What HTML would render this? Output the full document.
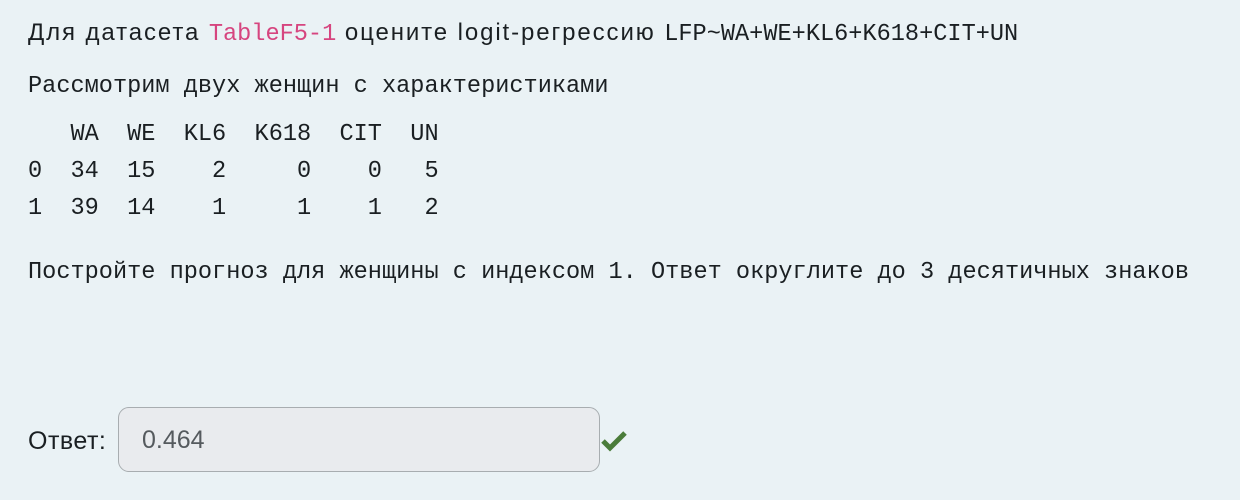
<!DOCTYPE html>
<html><head><meta charset="utf-8"><style>
html,body{margin:0;padding:0;}
body{width:1240px;height:500px;background:#eaf2f5;position:relative;overflow:hidden;color:#1a1f22;font-family:"Liberation Sans","Noto Sans CJK SC",sans-serif;}
.abs{position:absolute;white-space:pre;}
.mono{font-family:"Liberation Mono","DejaVu Sans Mono",monospace;font-size:23.6px;line-height:36px;}
.l1{left:28px;top:15px;font-size:24px;line-height:36px;letter-spacing:1.9px;}
.pink{color:#d6457f;}
.box{position:absolute;left:118px;top:407px;width:482px;height:65px;border:1px solid #a8adb0;border-radius:11px;background:#e9ebee;box-sizing:border-box;}
.val{position:absolute;left:142px;top:422px;font-size:25px;color:#555a5e;line-height:36px;}
</style></head><body>
<div class="abs l1">Для датасета <span class="mono pink" style="letter-spacing:0">TableF5-1</span> оцените logit-регрессию <span class="mono" style="letter-spacing:0">LFP~WA+WE+KL6+K618+CIT+UN</span></div>
<div class="abs mono" style="left:28px;top:69px;">Рассмотрим двух женщин с характеристиками</div>
<div class="abs mono" style="left:28px;top:116px;line-height:37px;">   WA  WE  KL6  K618  CIT  UN
0  34  15    2     0    0   5
1  39  14    1     1    1   2</div>
<div class="abs mono" style="left:28px;top:255px;">Постройте прогноз для женщины с индексом 1. Ответ округлите до 3 десятичных знаков</div>
<div class="abs" style="left:28px;top:423px;font-size:25px;line-height:36px;letter-spacing:0.5px;">Ответ:</div>
<div class="box"></div>
<div class="val">0.464</div>
<svg class="abs" style="left:601px;top:430px" width="26" height="22" viewBox="0 0 26 22"><path d="M2 11 L9 18 L24 3" fill="none" stroke="#4a7c3a" stroke-width="5"/></svg>
</body></html>
